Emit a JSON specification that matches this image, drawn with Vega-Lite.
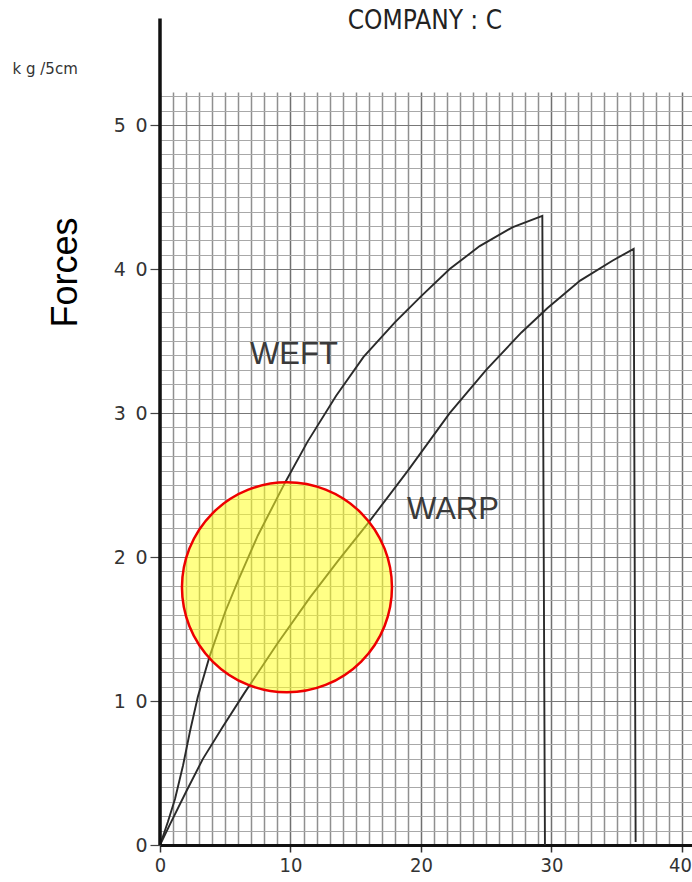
{
  "$schema": "https://vega.github.io/schema/vega-lite/v6.json",
  "width": 532,
  "height": 753,
  "autosize": "none",
  "padding": {"left": 160, "top": 92, "right": 0, "bottom": 37},
  "background": "white",
  "config": {"view": {"stroke": null}},
  "datasets": {
    "curves": [
      {"series": "WEFT", "i": 0, "strain": 0, "force": 0},
      {"series": "WEFT", "i": 1, "strain": 0.6, "force": 1.6},
      {"series": "WEFT", "i": 2, "strain": 1.15, "force": 3.2},
      {"series": "WEFT", "i": 3, "strain": 1.76, "force": 5.5},
      {"series": "WEFT", "i": 4, "strain": 2.3, "force": 7.9},
      {"series": "WEFT", "i": 5, "strain": 2.9, "force": 10.3},
      {"series": "WEFT", "i": 6, "strain": 3.8, "force": 13.1},
      {"series": "WEFT", "i": 7, "strain": 5.0, "force": 16.2},
      {"series": "WEFT", "i": 8, "strain": 6.0, "force": 18.4},
      {"series": "WEFT", "i": 9, "strain": 7.5, "force": 21.5},
      {"series": "WEFT", "i": 10, "strain": 9.6, "force": 25.2},
      {"series": "WEFT", "i": 11, "strain": 11.3, "force": 28.0},
      {"series": "WEFT", "i": 12, "strain": 13.5, "force": 31.2},
      {"series": "WEFT", "i": 13, "strain": 15.6, "force": 33.9},
      {"series": "WEFT", "i": 14, "strain": 18.0, "force": 36.3},
      {"series": "WEFT", "i": 15, "strain": 20.0, "force": 38.1},
      {"series": "WEFT", "i": 16, "strain": 22.2, "force": 40.0},
      {"series": "WEFT", "i": 17, "strain": 24.5, "force": 41.6},
      {"series": "WEFT", "i": 18, "strain": 27.0, "force": 42.9},
      {"series": "WEFT", "i": 19, "strain": 29.3, "force": 43.7},
      {"series": "WEFT", "i": 20, "strain": 29.5, "force": 0},
      {"series": "WARP", "i": 0, "strain": 0, "force": 0},
      {"series": "WARP", "i": 1, "strain": 0.8, "force": 1.5},
      {"series": "WARP", "i": 2, "strain": 2.0, "force": 3.7},
      {"series": "WARP", "i": 3, "strain": 3.3, "force": 6.0},
      {"series": "WARP", "i": 4, "strain": 4.8, "force": 8.2},
      {"series": "WARP", "i": 5, "strain": 6.5, "force": 10.6},
      {"series": "WARP", "i": 6, "strain": 9.0, "force": 14.0},
      {"series": "WARP", "i": 7, "strain": 11.5, "force": 17.2},
      {"series": "WARP", "i": 8, "strain": 13.7, "force": 19.8},
      {"series": "WARP", "i": 9, "strain": 15.9, "force": 22.3},
      {"series": "WARP", "i": 10, "strain": 19.0, "force": 26.0},
      {"series": "WARP", "i": 11, "strain": 22.2, "force": 30.0},
      {"series": "WARP", "i": 12, "strain": 25.0, "force": 33.0},
      {"series": "WARP", "i": 13, "strain": 27.7, "force": 35.6},
      {"series": "WARP", "i": 14, "strain": 29.7, "force": 37.3},
      {"series": "WARP", "i": 15, "strain": 32.2, "force": 39.2},
      {"series": "WARP", "i": 16, "strain": 34.7, "force": 40.6},
      {"series": "WARP", "i": 17, "strain": 36.3, "force": 41.4},
      {"series": "WARP", "i": 18, "strain": 36.45, "force": 0.2}
    ],
    "highlight": [{"strain": 9.73, "force": 17.9}],
    "curveLabels": [
      {"label": "WEFT", "strain": 10.27, "force": 34.0},
      {"label": "WARP", "strain": 22.45, "force": 23.3}
    ],
    "heading": [{"label": "COMPANY : C", "strain": 20.3, "force": 57.2}],
    "unit": [{"label": "k g /5cm", "strain": -11.3, "force": 53.9}],
    "axisLine": [{"strain": 0, "force": 0, "force2": 57.4}]
  },
  "layer": [
    {
      "data": {"name": "curves"},
      "mark": {"type": "line", "color": "#2a2a2a", "strokeWidth": 1.9, "clip": false},
      "encoding": {
        "x": {
          "field": "strain",
          "type": "quantitative",
          "scale": {"domain": [0, 40.77], "nice": false, "zero": false},
          "axis": {
            "title": null,
            "tickCount": 200,
            "format": "d",
            "values": [0,1,2,3,4,5,6,7,8,9,10,11,12,13,14,15,16,17,18,19,20,21,22,23,24,25,26,27,28,29,30,31,32,33,34,35,36,37,38,39,40],
            "labelExpr": "datum.value % 10 === 0 ? datum.label : ''",
            "labelFont": "'DejaVu Sans Condensed', 'Liberation Sans', sans-serif",
            "labelFontSize": 20,
            "labelColor": "#333333",
            "labelPadding": 3,
            "labelFlush": false,
            "labelOverlap": false,
            "labelOffset": {"condition": {"test": "datum.value === 40", "value": -2}, "value": 0},
            "tickSize": 7,
            "tickColor": "#333333",
            "tickWidth": 1.5,
            "tickOpacity": {"condition": {"test": "datum.value % 10 === 0", "value": 1}, "value": 0},
            "domainColor": "#111111",
            "domainWidth": 3,
            "grid": true,
            "gridColor": {"condition": {"test": "datum.value % 10 === 0", "value": "#707070"}, "value": "#8f8f8f"},
            "gridWidth": 1.5,
            "gridOpacity": 1
          }
        },
        "y": {
          "field": "force",
          "type": "quantitative",
          "scale": {"domain": [0, 52.3], "nice": false, "zero": false},
          "axis": {
            "title": "Forces",
            "titleFont": "Liberation Sans",
            "titleFontSize": 36,
            "titleFontWeight": "normal",
            "titleColor": "#000000",
            "titleAngle": -90,
            "titleX": -95,
            "titleY": 180,
            "titleAlign": "center",
            "titleBaseline": "middle",
            "tickCount": 200,
            "format": "d",
            "values": [0,1,2,3,4,5,6,7,8,9,10,11,12,13,14,15,16,17,18,19,20,21,22,23,24,25,26,27,28,29,30,31,32,33,34,35,36,37,38,39,40,41,42,43,44,45,46,47,48,49,50,51,52],
            "labelExpr": "datum.value === 0 ? '0' : (datum.value % 10 === 0 ? floor(datum.value / 10) + '\u2002' + '0' : '')",
            "labelFont": "DejaVu Sans",
            "labelFontSize": 19,
            "labelColor": "#333333",
            "labelPadding": 3,
            "labelFlush": false,
            "labelOverlap": false,
            "tickSize": 10,
            "tickColor": "#444444",
            "tickWidth": 1.2,
            "tickOpacity": {"condition": {"test": "datum.value % 10 === 0", "value": 1}, "value": 0},
            "domain": false,
            "grid": true,
            "gridColor": {"condition": {"test": "datum.value % 10 === 0", "value": "#777777"}, "value": "#a8a8a8"},
            "gridWidth": 1.2,
            "gridOpacity": 1
          }
        },
        "detail": {"field": "series", "type": "nominal"},
        "order": {"field": "i", "type": "quantitative"}
      }
    },
    {
      "data": {"name": "highlight"},
      "mark": {"type": "circle", "size": 44100, "fill": "#ffff22", "fillOpacity": 0.55, "stroke": "#ee0000", "strokeWidth": 2.5, "opacity": 1},
      "encoding": {
        "x": {"field": "strain", "type": "quantitative"},
        "y": {"field": "force", "type": "quantitative"}
      }
    },
    {
      "data": {"name": "curveLabels"},
      "mark": {"type": "text", "font": "Liberation Sans", "fontSize": 31, "color": "#3a3a3a", "align": "center", "baseline": "middle"},
      "encoding": {
        "x": {"field": "strain", "type": "quantitative"},
        "y": {"field": "force", "type": "quantitative"},
        "text": {"field": "label"}
      }
    },
    {
      "data": {"name": "heading"},
      "mark": {"type": "text", "font": "'DejaVu Sans Condensed', 'Liberation Sans', sans-serif", "fontSize": 26, "color": "#222222", "align": "center", "baseline": "middle", "clip": false},
      "encoding": {
        "x": {"field": "strain", "type": "quantitative"},
        "y": {"field": "force", "type": "quantitative"},
        "text": {"field": "label"}
      }
    },
    {
      "data": {"name": "unit"},
      "mark": {"type": "text", "font": "DejaVu Sans", "fontSize": 15, "color": "#333333", "align": "left", "baseline": "middle", "clip": false},
      "encoding": {
        "x": {"field": "strain", "type": "quantitative"},
        "y": {"field": "force", "type": "quantitative"},
        "text": {"field": "label"}
      }
    },
    {
      "data": {"name": "axisLine"},
      "mark": {"type": "rule", "color": "#111111", "strokeWidth": 3.5, "clip": false},
      "encoding": {
        "x": {"field": "strain", "type": "quantitative"},
        "y": {"field": "force", "type": "quantitative"},
        "y2": {"field": "force2"}
      }
    }
  ]
}
